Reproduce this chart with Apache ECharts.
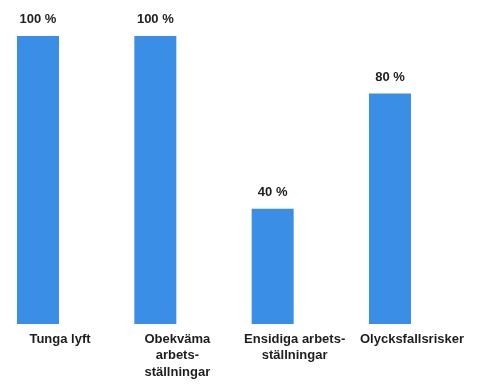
<!DOCTYPE html>
<html>
<head>
<meta charset="utf-8">
<script src="https://cdn.jsdelivr.net/npm/echarts@6/dist/echarts.min.js"></script>
<style>
  html, body { margin: 0; padding: 0; background: #fff; }
  #chart { width: 483px; height: 385px; }
</style>
</head>
<body>
<div id="chart"></div>
<script>
// risk categories and share (%)
var categories = ['Tunga lyft', 'Obekväma\narbets-\nställningar', 'Ensidiga arbets-\nställningar', 'Olycksfallsrisker'];
var values = [100, 100, 40, 80];

var chart = echarts.init(document.getElementById('chart'));
var option = {
  animation: false,
  // bars sit on the ticks, so the first one lines up with the left edge
  grid: { left: 38, right: 93, top: 36, bottom: 61, outerBoundsMode: 'none' },
  xAxis: {
    type: 'category',
    data: categories,
    boundaryGap: false,
    axisLine: { show: false },
    axisTick: { show: false },
    axisLabel: {
      interval: 0,
      margin: 7,
      color: '#1e1e1e',
      fontFamily: 'Liberation Sans',
      fontWeight: 'bold',
      fontSize: 13,
      lineHeight: 16.5,
      padding: [0, 0, 0, 44]
    }
  },
  yAxis: {
    type: 'value',
    min: 0,
    max: 100,
    show: false
  },
  series: [{
    type: 'bar',
    data: values,
    barWidth: 42,
    itemStyle: { color: '#3a8ee6' },
    label: {
      show: true,
      position: 'top',
      distance: 10,
      formatter: '{c} %',
      color: '#1e1e1e',
      fontFamily: 'Liberation Sans',
      fontWeight: 'bold',
      fontSize: 13
    }
  }]
};
chart.setOption(option);
</script>
</body>
</html>
